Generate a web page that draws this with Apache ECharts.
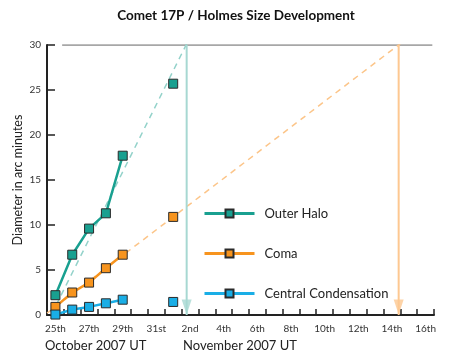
<!DOCTYPE html>
<html>
<head>
<meta charset="utf-8">
<script src="https://cdn.jsdelivr.net/npm/echarts@6/dist/echarts.min.js"></script>
<style>html,body{margin:0;padding:0;background:#fff}#c{width:450px;height:363px}</style>
</head>
<body>
<div id="c"></div>
<script>
// ---- data ----
var obsDays = [25, 26, 27, 28, 29, 32];          // Oct day number (Nov n = 31 + n)
var outerHalo = [2.2, 6.7, 9.6, 11.3, 17.7, 25.7];
var coma = [0.9, 2.5, 3.6, 5.2, 6.7, 10.9];
var centralCondensation = [0.05, 0.6, 0.9, 1.3, 1.7, 1.45];
var haloTrend = [[24.75, 0], [33.3, 32]];
var comaTrend = [[24.5, 0.2], [46.3, 31.3]];
var limitValue = 30;
var limitSpan = [25.4, 47.4];
var haloArrival = 32.8;
var comaArrival = 45.4;
var xLabelDays = [25, 27, 29, 31, 33, 35, 37, 39, 41, 43, 45, 47];
var xLabels = ['25th', '27th', '29th', '31st', '2nd', '4th', '6th', '8th', '10th', '12th', '14th', '16th'];
var xTickDays = [24.5,25.5,26.5,27.5,28.5,29.5,30.5,31.5,32.5,33.5,34.5,35.5,36.5,37.5,38.5,39.5,40.5,41.5,42.5,43.5,44.5,45.5,46.5,47.5];
var yTicks = [0, 5, 10, 15, 20, 25, 30];
var seriesNames = ['Outer Halo', 'Coma', 'Central Condensation'];

// ---- build ----
function obsData(vals) {
  var out = [];
  for (var i = 0; i < vals.length; i++) {
    if (i === 5) out.push([30.5, '-']);
    out.push([obsDays[i], vals[i]]);
  }
  return out;
}
var FONT = 'Lato';
var colors = ['#19a090', '#f7941e', '#1aaee6'];
var trendColors = ['#93d2ca', '#fcc589'];
var arrowColors = ['#a7d8d2', '#fdc891'];

function arrowSeries(xv, col) {
  return [{
    type: 'line', data: [[xv, limitValue], [xv, 0]], showSymbol: false, silent: true,
    lineStyle: { color: col, width: 2 }, z: 1, animation: false
  }, {
    type: 'scatter', data: [[xv, 0]], symbol: 'triangle', symbolRotate: 180,
    symbolSize: [10, 15], symbolOffset: [0, -8], silent: true,
    itemStyle: { color: col }, z: 1, animation: false
  }];
}

var series = [
  { type: 'line', data: [[limitSpan[0], limitValue], [limitSpan[1], limitValue]], showSymbol: false,
    lineStyle: { color: '#8a8a8a', width: 1.5 }, z: 1, animation: false },
  { type: 'line', data: haloTrend, showSymbol: false,
    lineStyle: { color: trendColors[0], width: 1.5, type: [6, 5] }, z: 1, animation: false },
  { type: 'line', data: comaTrend, showSymbol: false,
    lineStyle: { color: trendColors[1], width: 1.5, type: [6, 5] }, z: 1, animation: false }
].concat(arrowSeries(haloArrival, arrowColors[0]), arrowSeries(comaArrival, arrowColors[1]));

[outerHalo, coma, centralCondensation].forEach(function (vals, i) {
  series.push({
    name: seriesNames[i], type: 'line', data: obsData(vals),
    symbol: 'rect', symbolSize: 9, showSymbol: true, showAllSymbol: true,
    lineStyle: { color: colors[i], width: 2.5 },
    itemStyle: { color: colors[i], borderColor: '#2a2a2a', borderWidth: 1 },
    z: 3, animation: false
  });
});

var chart = echarts.init(document.getElementById('c'), null, { renderer: 'canvas' });
chart.setOption({
  animation: false,
  grid: { left: 47, right: 16, top: 45, bottom: 48, outerBoundsMode: 'none', containLabel: false },
  xAxis: {
    type: 'value', min: 24.5, max: 47.5,
    splitLine: { show: false },
    axisLine: { show: true, lineStyle: { color: '#222', width: 2 } },
    axisTick: { show: true, inside: true, length: 6, lineStyle: { color: '#222', width: 1.5 }, customValues: xTickDays },
    axisLabel: {
      customValues: xLabelDays, margin: 9, fontSize: 10, color: '#333', fontFamily: FONT,
      formatter: function (v) { var k = xLabelDays.indexOf(Math.round(v)); return k >= 0 ? xLabels[k] : ''; }
    }
  },
  yAxis: {
    type: 'value', min: 0, max: 30, interval: 5,
    name: 'Diameter in arc minutes', nameLocation: 'middle', nameGap: 23, nameMoveOverlap: false,
    nameTextStyle: { fontSize: 12.5, color: '#222', fontFamily: FONT },
    splitLine: { show: false },
    axisLine: { show: true, lineStyle: { color: '#222', width: 2 } },
    axisTick: { show: true, inside: true, length: 8, lineStyle: { color: '#222', width: 1.5 }, customValues: yTicks },
    axisLabel: { margin: 6, fontSize: 10, color: '#333', fontFamily: FONT }
  },
  legend: {
    data: seriesNames, orient: 'vertical', left: 203, top: 207, padding: 0,
    itemWidth: 50, itemHeight: 10, itemGap: 27,
    lineStyle: { width: 3 },
    textStyle: { fontSize: 13, color: '#222', fontFamily: FONT, padding: [0, 0, 0, 5] },
    selectedMode: false
  },
  graphic: [
    { type: 'text', style: { text: 'Comet 17P / Holmes Size Development', x: 236, y: 16, align: 'center', verticalAlign: 'middle',
      font: 'bold 13.5px ' + FONT, fill: '#111' } },
    { type: 'text', style: { text: 'October 2007 UT', x: 45, y: 346, verticalAlign: 'middle', font: '13px ' + FONT, fill: '#222' } },
    { type: 'text', style: { text: 'November 2007 UT', x: 183, y: 346, verticalAlign: 'middle', font: '13px ' + FONT, fill: '#222' } }
  ],
  series: series
});
</script>
</body>
</html>
